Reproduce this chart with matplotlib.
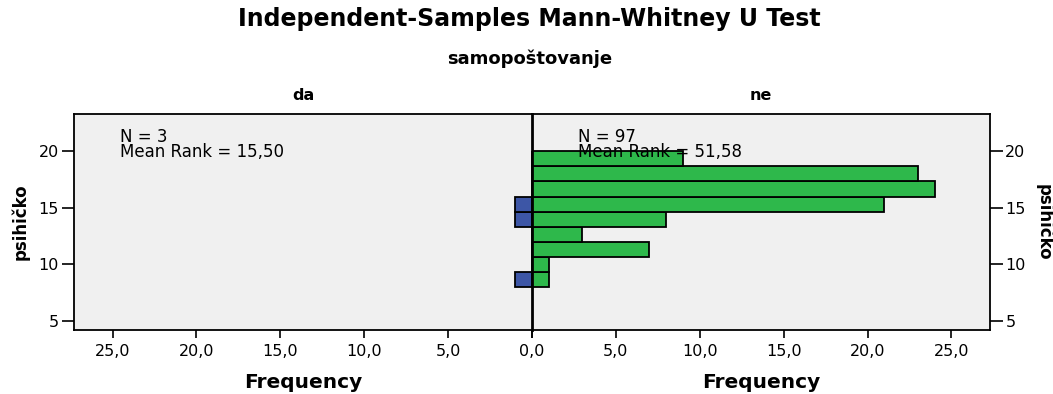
import matplotlib.pyplot as plt
import numpy as np

plt.rcParams['font.family'] = ['DejaVu Sans']

# Histogram data (psihičko, bins from 8 to 20)
bin_edges = np.linspace(8, 20, 10)
counts_da = [1, 0, 0, 0, 1, 1, 0, 0, 0]
counts_ne = [1, 1, 7, 3, 8, 21, 24, 23, 9]
groups = ['da', 'ne']
n_vals = [3, 97]
mean_ranks = ['15,50', '51,58']
x_ticks = [0, 5, 10, 15, 20, 25]
y_ticks = [5, 10, 15, 20]

bg = '#f0f0f0'
colors = ['#3d56a6', '#2eb84b']

fig = plt.figure(figsize=(10.53, 3.94), dpi=100)
W, H = 1053, 394
ax_l = fig.add_axes([74 / W, 64 / H, 458 / W, 216 / H])
ax_r = fig.add_axes([532 / W, 64 / H, 458 / W, 216 / H])

heights = np.diff(bin_edges)
for ax, counts, col, n, mr, grp in zip([ax_l, ax_r], [counts_da, counts_ne], colors,
                                       n_vals, mean_ranks, groups):
    ax.set_facecolor(bg)
    ax.barh(bin_edges[:-1], counts, height=heights, align='edge', left=0,
            color=col, edgecolor='black', linewidth=1.3, zorder=2)
    ax.set_xlim(0, 27.3)
    ax.set_ylim(4.2, 23.3)
    ax.set_xticks(x_ticks)
    ax.set_yticks(y_ticks)
    ax.tick_params(axis='x', direction='out', length=6, width=1.2, labelsize=11.5, pad=4)
    ax.tick_params(axis='y', direction='out', length=9, width=1.2, labelsize=11.5, pad=2)
    for s in ax.spines.values():
        s.set_linewidth(1.3)
    ax.set_xlabel('Frequency', fontsize=14.5, fontweight='bold', labelpad=10)
    ax.set_title(grp, fontsize=11.5, fontweight='bold', pad=10)
    ax.text(0.1, 0.935, f"N = {n}\nMean Rank = {mr}", transform=ax.transAxes,
            fontsize=12, va='top', ha='left', linespacing=0.75, zorder=3)

ax_l.set_xticklabels([f"{t:.1f}".replace('.', ',') if t else '' for t in x_ticks])
ax_r.set_xticklabels([f"{t:.1f}".replace('.', ',') for t in x_ticks])
ax_l.invert_xaxis()
ax_l.spines['right'].set_visible(False)
ax_r.spines['left'].set_linewidth(2)
ax_r.tick_params(axis='y', left=False, labelleft=False, right=True, labelright=True)
ax_l.set_ylabel('psihičko', fontsize=12, fontweight='bold', labelpad=6)
ax_r.yaxis.set_label_position('right')
ax_r.set_ylabel('psihičko', fontsize=12, fontweight='bold', rotation=-90, labelpad=20)

fig.text(0.503, 0.952, 'Independent-Samples Mann-Whitney U Test', ha='center', va='center',
         fontsize=17, fontweight='bold')
fig.text(0.503, 0.85, 'samopoštovanje', ha='center', va='center',
         fontsize=13, fontweight='bold')

fig.savefig('out.png', dpi=100, facecolor='white')
